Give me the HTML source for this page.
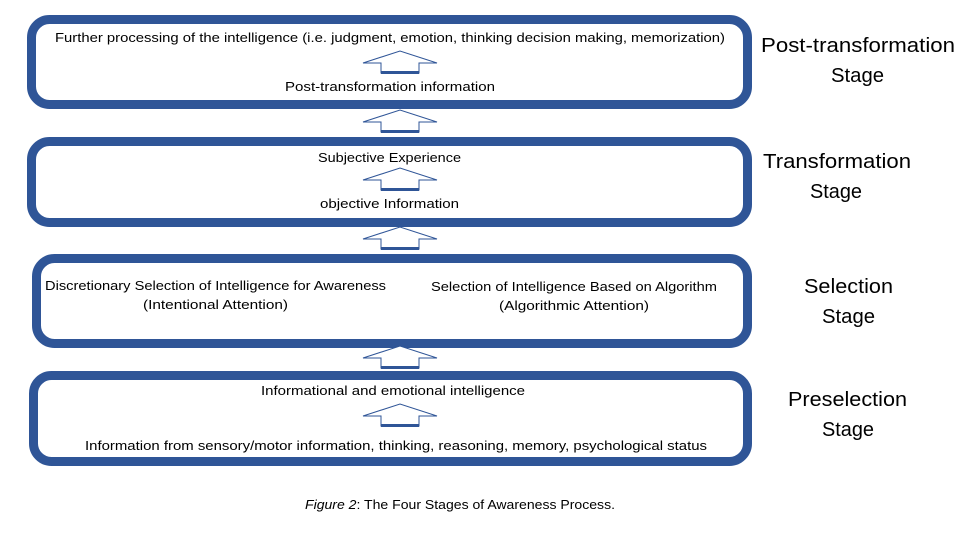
<!DOCTYPE html>
<html><head><meta charset="utf-8"><style>html,body{margin:0;padding:0;background:#fff}svg{display:block}</style></head>
<body>
<svg width="960" height="540" viewBox="0 0 960 540" xmlns="http://www.w3.org/2000/svg" font-family="Liberation Sans, sans-serif" fill="#000">
<defs>
<g id="arr">
<polygon points="0,0 37,-12 74,0 56,0 56,10 18,10 18,0" fill="#fff" stroke="#2f5597" stroke-width="1"/>
<rect x="18" y="8" width="38" height="3" fill="#2f5597"/>
</g>
</defs>
<g fill="none" stroke="#2f5597" stroke-width="9">
<rect x="31.5" y="19.5" width="716" height="85" rx="18"/>
<rect x="31.5" y="141.5" width="716" height="81" rx="18"/>
<rect x="36.5" y="258.5" width="711" height="85" rx="18"/>
<rect x="33.5" y="375.5" width="714" height="86" rx="18"/>
</g>
<use href="#arr" x="363" y="63"/>
<use href="#arr" x="363" y="122"/>
<use href="#arr" x="363" y="180"/>
<use href="#arr" x="363" y="239"/>
<use href="#arr" x="363" y="358"/>
<use href="#arr" x="363" y="416"/>
<g font-size="13">
<text x="55" y="42" textLength="670" lengthAdjust="spacingAndGlyphs">Further processing of the intelligence (i.e. judgment, emotion, thinking decision making, memorization)</text>
<text x="285" y="91" textLength="210" lengthAdjust="spacingAndGlyphs">Post-transformation information</text>
<text x="318" y="162" textLength="143" lengthAdjust="spacingAndGlyphs">Subjective Experience</text>
<text x="320" y="208" textLength="139" lengthAdjust="spacingAndGlyphs">objective Information</text>
<text x="45" y="290" textLength="341" lengthAdjust="spacingAndGlyphs">Discretionary Selection of Intelligence for Awareness</text>
<text x="143" y="309" textLength="145" lengthAdjust="spacingAndGlyphs">(Intentional Attention)</text>
<text x="431" y="291" textLength="286" lengthAdjust="spacingAndGlyphs">Selection of Intelligence Based on Algorithm</text>
<text x="499" y="310" textLength="150" lengthAdjust="spacingAndGlyphs">(Algorithmic Attention)</text>
<text x="261" y="395" textLength="264" lengthAdjust="spacingAndGlyphs">Informational and emotional intelligence</text>
<text x="85" y="450" textLength="622" lengthAdjust="spacingAndGlyphs">Information from sensory/motor information, thinking, reasoning, memory, psychological status</text>
<text x="305" y="509" textLength="310" lengthAdjust="spacingAndGlyphs"><tspan font-style="italic">Figure 2</tspan>: The Four Stages of Awareness Process.</text>
</g>
<g font-size="20">
<text x="761" y="52" textLength="194" lengthAdjust="spacingAndGlyphs">Post-transformation</text>
<text x="831" y="82" textLength="53" lengthAdjust="spacingAndGlyphs">Stage</text>
<text x="763" y="168" textLength="148" lengthAdjust="spacingAndGlyphs">Transformation</text>
<text x="810" y="198" textLength="52" lengthAdjust="spacingAndGlyphs">Stage</text>
<text x="804" y="293" textLength="89" lengthAdjust="spacingAndGlyphs">Selection</text>
<text x="822" y="323" textLength="53" lengthAdjust="spacingAndGlyphs">Stage</text>
<text x="788" y="406" textLength="119" lengthAdjust="spacingAndGlyphs">Preselection</text>
<text x="822" y="436" textLength="52" lengthAdjust="spacingAndGlyphs">Stage</text>
</g>
</svg>
</body></html>
